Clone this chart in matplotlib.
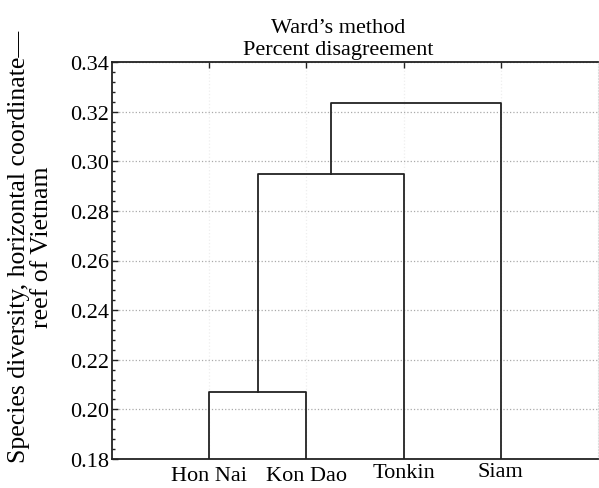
import matplotlib
matplotlib.use("Agg")
import matplotlib.pyplot as plt
import matplotlib.transforms as mtransforms
from matplotlib.ticker import MultipleLocator

plt.rcParams['font.family'] = ['Liberation Serif', 'DejaVu Serif']

leaves = ['Hon Nai', 'Kon Dao', 'Tonkin', 'Siam']
merge_heights = [0.2071, 0.2949, 0.3234]
y_ticks = [0.18, 0.20, 0.22, 0.24, 0.26, 0.28, 0.30, 0.32, 0.34]
y_bottom = 0.18
label_drop = [3, 3, 0, -1]  # small vertical offsets of the leaf names, px

fig = plt.figure(figsize=(5.99, 4.89), dpi=100)
ax = fig.add_axes([112 / 599, 1 - 460 / 489, 486 / 599, 397 / 489])

pos = [1, 2, 3, 4]
lw = 1.3
col = '#222222'

# Hon Nai + Kon Dao
h1 = merge_heights[0]
ax.plot([pos[0], pos[0], pos[1], pos[1]], [y_bottom, h1, h1, y_bottom], color=col, lw=lw)
c1 = (pos[0] + pos[1]) / 2
# join with Tonkin
h2 = merge_heights[1]
ax.plot([c1, c1, pos[2], pos[2]], [h1, h2, h2, y_bottom], color=col, lw=lw)
c2 = (c1 + pos[2]) / 2
# join with Siam
h3 = merge_heights[2]
ax.plot([c2, c2, pos[3], pos[3]], [h2, h3, h3, y_bottom], color=col, lw=lw)

ax.set_xlim(0, 5)
ax.set_ylim(0.18, 0.34)
ax.set_yticks(y_ticks)
ax.set_yticklabels(['%.2f' % v for v in y_ticks])
ax.yaxis.set_minor_locator(MultipleLocator(0.004))
ax.set_xticks(pos)
ax.set_xticklabels(leaves)

ax.tick_params(axis='y', which='major', direction='in', length=4, labelsize=16, width=1, colors=col, pad=2)
ax.tick_params(axis='y', which='minor', direction='in', length=2, width=1, colors=col)
ax.tick_params(axis='x', which='major', direction='in', length=4, labelsize=16,
               bottom=False, top=True, width=1, colors=col, pad=3)
for lab in ax.get_yticklabels() + ax.get_xticklabels():
    lab.set_color('black')
for lab, d in zip(ax.get_xticklabels(), label_drop):
    lab.set_transform(lab.get_transform() + mtransforms.ScaledTranslation(0, -d / 100, fig.dpi_scale_trans))

ax.grid(axis='y', linestyle=':', color='#aaaaaa', lw=0.9)
ax.grid(axis='x', linestyle=':', color='#eeeeee', lw=0.9)

for s in ['left', 'top', 'bottom']:
    ax.spines[s].set_linewidth(1.3)
    ax.spines[s].set_color(col)
ax.spines['right'].set_color('#dddddd')
ax.spines['right'].set_linestyle(':')

ax.text(0.465, 1.0 + 3 / 397, "Ward\u2019s method\nPercent disagreement", transform=ax.transAxes,
        ha='center', va='bottom', fontsize=16, linespacing=1.2)
ax.set_ylabel("Species diversity, horizontal coordinate\u2014\nreef of Vietnam",
              fontsize=18.5, linespacing=1.05)
ax.yaxis.set_label_coords(-0.121, 0.537)

fig.savefig('out.png', dpi=100)
